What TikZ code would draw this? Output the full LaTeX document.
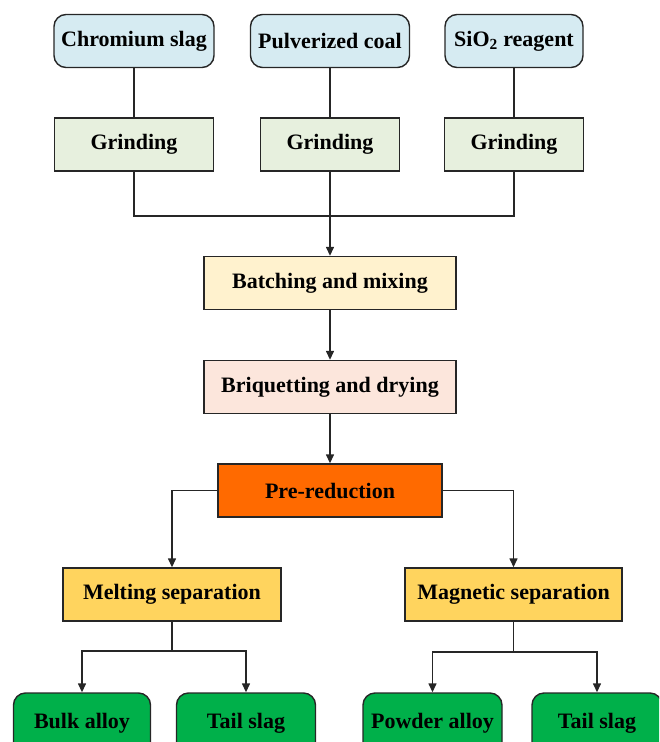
\documentclass[tikz,border=0pt]{standalone}
\usepackage{fontspec}
\setmainfont{Liberation Serif}
\usetikzlibrary{arrows.meta}
\definecolor{rawblue}{HTML}{D6EBF2}
\definecolor{grindgreen}{HTML}{E7F0DE}
\definecolor{batchyellow}{HTML}{FFF2CE}
\definecolor{briqpink}{HTML}{FCE6DC}
\definecolor{preorange}{HTML}{FF6A00}
\definecolor{sepgold}{HTML}{FFD45E}
\definecolor{prodgreen}{HTML}{00B04A}
\tikzset{
  every node/.style={font=\fontsize{22}{26}\selectfont\bfseries, text=black, inner sep=0pt},
  boxbase/.style={draw=black!85, line width=1.4pt, minimum height=53pt},
  rawbox/.style={boxbase, fill=rawblue, rounded corners=12pt},
  grindbox/.style={boxbase, fill=grindgreen},
  batchbox/.style={boxbase, fill=batchyellow},
  briqbox/.style={boxbase, fill=briqpink},
  prebox/.style={boxbase, fill=preorange},
  sepbox/.style={boxbase, fill=sepgold},
  prodbox/.style={boxbase, fill=prodgreen, rounded corners=12pt, minimum height=62pt},
  conn/.style={line width=1.4pt, draw=black!85},
  arr/.style={conn, -{Triangle[length=9pt,width=8pt]}}
}
\begin{document}
\begin{tikzpicture}[x=1pt,y=-1pt]
\useasboundingbox (0,0) rectangle (659,742);
\clip (0,0) rectangle (659,742);
% top row
\node[rawbox, minimum width=160pt] (cs) at (134,41) {Chromium slag};
\node[rawbox, minimum width=159pt] (pc) at (330,41) {Pulverized coal};
\node[rawbox, minimum width=138pt] (si) at (514,41) {SiO\textsubscript{2} reagent};
% grinding
\node[grindbox, minimum width=159pt] (g1) at (134,144.5) {Grinding};
\node[grindbox, minimum width=139pt] (g2) at (330,144.5) {Grinding};
\node[grindbox, minimum width=139pt] (g3) at (514,144.5) {Grinding};
% main chain
\node[batchbox, minimum width=252pt] (bm) at (330,283) {Batching and mixing};
\node[briqbox, minimum width=252pt] (bd) at (330,387) {Briquetting and drying};
\node[prebox, minimum width=224pt] (pr) at (330,490.5) {Pre-reduction};
% separations
\node[sepbox, minimum width=218pt] (ms) at (172,594.5) {Melting separation};
\node[sepbox, minimum width=217pt] (mg) at (513.5,594.5) {Magnetic separation};
% products
\node[prodbox, minimum width=137pt] (ba) at (82,724) {\raisebox{7pt}{Bulk alloy}};
\node[prodbox, minimum width=139pt] (ts1) at (246,724) {\raisebox{7pt}{Tail slag}};
\node[prodbox, minimum width=139pt] (pa) at (432.5,724) {\raisebox{7pt}{Powder alloy}};
\node[prodbox, minimum width=130pt] (ts2) at (597,724) {\raisebox{7pt}{Tail slag}};
% coordinates
\coordinate (m) at (330,216);
\coordinate (b1) at (172,651);
\coordinate (b2) at (513.5,652);
% connectors
\draw[conn] (cs.south) -- (g1.north);
\draw[conn] (pc.south) -- (g2.north);
\draw[conn] (si.south) -- (g3.north);
\draw[conn] (g1.south) |- (m);
\draw[conn] (g3.south) |- (m);
\draw[arr] (g2.south) -- (bm.north);
\draw[arr] (bm.south) -- (bd.north);
\draw[arr] (bd.south) -- (pr.north);
\draw[arr] (pr.west) -| (ms.north);
\draw[arr] (pr.east) -| (mg.north);
\draw[conn] (ms.south) -- (b1);
\draw[arr] (b1) -| (ba.north);
\draw[arr] (b1) -| (ts1.north);
\draw[conn] (mg.south) -- (b2);
\draw[arr] (b2) -| (pa.north);
\draw[arr] (b2) -| (ts2.north);
\end{tikzpicture}
\end{document}
